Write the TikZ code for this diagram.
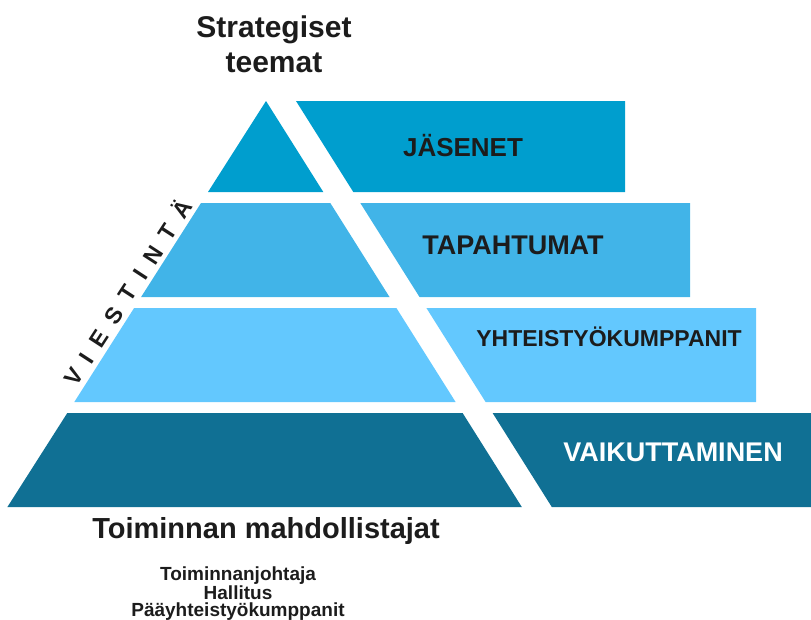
\documentclass[tikz,border=0pt]{standalone}
\usepackage{fontspec}
\setmainfont{Liberation Sans}
\definecolor{bandA}{HTML}{009ECE}
\definecolor{bandB}{HTML}{41B4E8}
\definecolor{bandC}{HTML}{63C8FE}
\definecolor{bandD}{HTML}{107094}
\definecolor{ink}{HTML}{1C1C1C}
\tikzset{
  lbl/.style={font=\bfseries, text=ink, inner sep=0pt},
}
\newcommand{\ls}{\hspace{12pt}}
\begin{document}
\begin{tikzpicture}[x=1pt,y=-1pt]
\useasboundingbox (0,0) rectangle (811,619);
% band 1
\fill[bandA] (266,101) -- (208,192) -- (323.3,192) -- cycle;
\fill[bandA] (296,101) -- (625,101) -- (625,192) -- (353.3,192) -- cycle;
% band 2
\fill[bandB] (201.0,203) -- (330.3,203) -- (389.5,297) -- (141.1,297) -- cycle;
\fill[bandB] (360.3,203) -- (690,203) -- (690,297) -- (419.5,297) -- cycle;
% band 3
\fill[bandC] (134.1,308) -- (396.4,308) -- (455.6,402) -- (74.3,402) -- cycle;
\fill[bandC] (426.4,308) -- (756,308) -- (756,402) -- (485.6,402) -- cycle;
% band 4
\fill[bandD] (67.3,413) -- (462.6,413) -- (521.8,507) -- (7.4,507) -- cycle;
\fill[bandD] (492.6,413) -- (811,413) -- (811,507) -- (551.8,507) -- cycle;
% labels
\node[lbl, align=center, anchor=base, font=\bfseries\fontsize{30}{35}\selectfont] (strat) at (274,72) {Strategiset\\teemat};
\node[lbl, font=\bfseries\fontsize{26}{30}\selectfont] (jas) at (463,146) {JÄSENET};
\node[lbl, font=\bfseries\fontsize{27}{31}\selectfont] (tap) at (513,245) {TAPAHTUMAT};
\node[lbl, font=\bfseries\fontsize{23}{27}\selectfont] (yht) at (609,337) {YHTEISTYÖKUMPPANIT};
\node[lbl, text=white, font=\bfseries\fontsize{27}{31}\selectfont] (vai) at (673,452) {VAIKUTTAMINEN};
\node[lbl, rotate=57, font=\bfseries\fontsize{23}{27}\selectfont] (viest) at (127,292) {V\ls I\ls E\ls S\ls T\ls I\ls N\ls T\ls Ä};
\node[lbl, anchor=base, font=\bfseries\fontsize{29}{33}\selectfont] (mahd) at (266,538) {Toiminnan mahdollistajat};
\node[lbl, align=center, anchor=base, font=\bfseries\fontsize{19}{17}\selectfont] (roles) at (238,616) {Toiminnanjohtaja\\Hallitus\\Pääyhteistyökumppanit};
\end{tikzpicture}
\end{document}
